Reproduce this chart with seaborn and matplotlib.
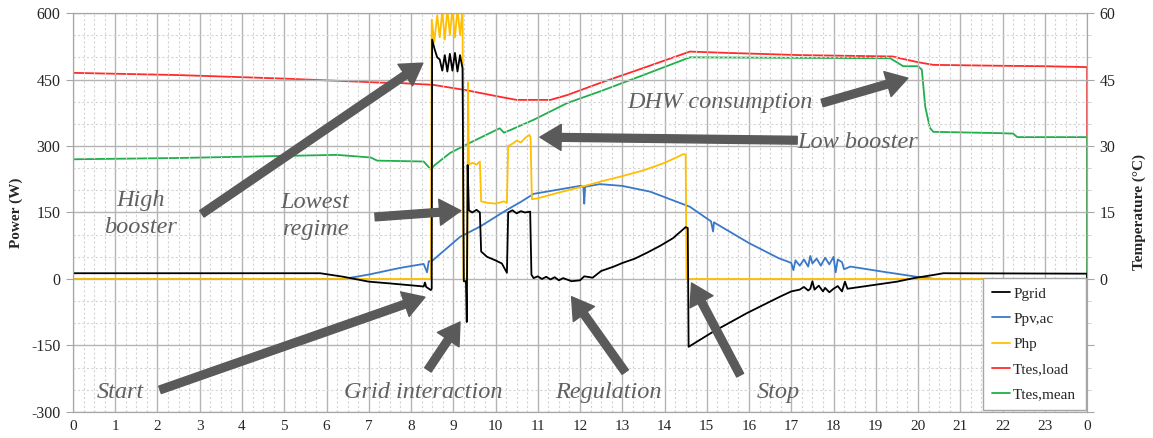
import numpy as np
import pandas as pd
import matplotlib
matplotlib.use('Agg')
import matplotlib.pyplot as plt
from matplotlib.ticker import MultipleLocator
import seaborn as sns

# ---- data (time in hours) ----
t_grid = [0, 5.85, 6.4, 7.0, 7.5, 8.2, 8.3, 8.33, 8.36, 8.47, 8.49,
          8.5, 8.56, 8.62, 8.68, 8.74, 8.8, 8.86, 8.92, 8.98, 9.04, 9.1, 9.16, 9.22,
          9.25, 9.3, 9.32, 9.34, 9.37, 9.45, 9.55, 9.63, 9.66, 9.8, 10.0, 10.15, 10.27,
          10.3, 10.4, 10.5, 10.6, 10.7, 10.82, 10.85, 10.9, 11.0, 11.1, 11.2, 11.3, 11.4,
          11.5, 11.6, 11.8, 12.0, 12.1, 12.3,
          12.5, 12.8, 13.0, 13.3, 13.6, 13.9, 14.2, 14.5, 14.55, 14.57,
          15.15, 15.95, 16.73, 17.0, 17.2, 17.3, 17.4, 17.45, 17.5, 17.55, 17.65, 17.75,
          17.8, 17.9, 18.0, 18.1, 18.2, 18.27, 18.33,
          18.7, 19.5, 19.9, 20.36, 20.6, 24.0, 24.0]
p_grid = [13, 13, 5, -6, -10, -16, -17, -8, -18, -25, -22,
          540, 518, 500, 495, 470, 505, 468, 508, 470, 510, 468, 505, 475,
          -5, -5, -97, 257, 155, 150, 156, 150, 62, 50, 42, 35, 14,
          150, 155, 148, 153, 150, 152, 10, 2, 6, 0, 5, -1, 4,
          -3, 2, -5, -3, 6, 3,
          18, 28, 36, 46, 60, 75, 92, 117, 115, -153,
          -119, -77, -40, -28, -24, -18, -26, -22, -5, -24, -15, -28,
          -20, -30, -22, -16, -28, -6, -22,
          -17, -6, 2, 9, 13, 12, 0]

t_pv = [0, 6.4, 7.0, 7.74, 8.3, 8.38, 8.42, 8.49, 9.16, 9.63, 10.27, 10.6, 10.9,
        12.0, 12.08, 12.1, 12.12, 12.47, 13.0, 13.66, 14.6, 15.1, 15.15, 15.17, 15.2, 16.0,
        16.7, 16.9, 17.0, 17.05, 17.1, 17.2, 17.3, 17.4, 17.45, 17.5, 17.6, 17.7, 17.8,
        17.9, 18.0, 18.05, 18.1, 18.2, 18.25, 18.4, 19.2, 19.97, 20.4, 24.0]
p_pv = [0, 0, 10, 25, 34, 15, 40, 40, 95, 118, 156, 174, 192,
        210, 208, 170, 208, 214, 210, 197, 163, 130, 107, 128, 126, 81,
        47, 40, 36, 20, 42, 30, 44, 28, 52, 35, 46, 30, 48,
        33, 50, 15, 44, 38, 22, 28, 16, 5, 0, 0]

t_hp = [0, 8.47, 8.49, 8.55, 8.62, 8.68, 8.74, 8.8, 8.86, 8.92, 8.98, 9.04, 9.1,
        9.16, 9.22, 9.24, 9.33, 9.35, 9.37, 9.45, 9.55, 9.63, 9.66, 9.8, 10.0, 10.2,
        10.27, 10.3, 10.4, 10.5, 10.6, 10.7, 10.8, 10.83, 10.86, 11.0, 11.5, 12.0,
        12.5, 13.0, 13.5, 14.0, 14.3, 14.45, 14.5, 14.52, 24.0]
p_hp = [0, 0, 585, 535, 595, 545, 605, 540, 610, 550, 610, 545, 610,
        550, 610, 0, 0, 444, 258, 262, 258, 265, 175, 172, 170, 175,
        172, 300, 305, 312, 308, 318, 325, 320, 180, 182, 195, 207,
        220, 232, 245, 262, 275, 282, 280, 0, 0]

t_load = [0, 2.5, 5.0, 7.3, 7.74, 8.52, 9.3, 10.1, 10.5, 11.3, 11.7, 12.47, 13.5,
          14.6, 15.5, 17.2, 19.4, 19.57, 20.0, 20.36, 21.94, 23.0, 24.0, 24.0]
T_load = [46.5, 46.0, 45.2, 44.3, 44.2, 43.8, 42.6, 41.1, 40.4, 40.4, 41.5, 44.2, 47.6,
          51.3, 51.0, 50.5, 50.2, 49.8, 48.9, 48.3, 48.1, 48.0, 47.8, 0]

t_mean = [0, 2.53, 6.25, 7.05, 7.2, 8.3, 8.47, 8.55, 8.92, 9.39, 10.1, 10.2, 10.35,
          10.9, 11.7, 12.47, 13.5, 14.6, 19.34, 19.65, 20.0, 20.09, 20.17, 20.28,
          20.36, 21.94, 22.25, 22.35, 24.0, 24.0]
T_mean = [27.0, 27.3, 28.0, 27.4, 26.7, 26.5, 24.7, 25.6, 28.4, 30.7, 34.0, 33.0, 33.6,
          35.9, 39.7, 42.3, 46.0, 50.0, 49.8, 48.0, 48.0, 47.2, 38.9, 34.1,
          33.2, 32.9, 32.8, 32.0, 32.0, 0]

hours = list(range(25))
hour_labels = [str(h % 24) for h in hours]

# annotations: (text, text position, arrow tail, arrow tip) in (hour, W)
notes = [
    ('High\nbooster', (1.59, 147), (3.05, 147), (8.28, 487)),
    ('Lowest\nregime', (5.73, 142), (7.15, 140), (9.18, 154)),
    ('Start', (1.11, -257), (2.06, -250), (8.33, -41)),
    ('Grid interaction', (8.28, -257), (8.4, -205), (9.16, -97)),
    ('Regulation', (12.66, -257), (13.07, -210), (11.8, -40)),
    ('Stop', (16.69, -257), (15.79, -217), (14.64, -9)),
    ('DHW consumption', (15.31, 397), (17.73, 397), (19.76, 453)),
    ('Low booster', (18.58, 307), (17.14, 313), (11.05, 320)),
]

sns.set_style('white')
plt.rcParams['font.family'] = ['Liberation Serif', 'DejaVu Serif']
plt.rcParams['axes.unicode_minus'] = False

fig = plt.figure(figsize=(11.53, 4.38), dpi=100)
ax = fig.add_axes([0.0633, 0.0594, 0.8795, 0.9109])
ax2 = ax.twinx()

grid_major = '#b4b4b4'
grid_minor = '#d4d4d4'
ax.set_xlim(0, 24)
ax.set_ylim(-300, 600)
ax2.set_ylim(-30, 60)
ax.xaxis.set_major_locator(MultipleLocator(1))
ax.xaxis.set_minor_locator(MultipleLocator(0.25))
ax.yaxis.set_major_locator(MultipleLocator(150))
ax.yaxis.set_minor_locator(MultipleLocator(50))
ax.grid(which='major', color=grid_major, lw=1.0)
ax.grid(which='minor', color=grid_minor, lw=0.8, ls=(0, (2, 2)))
ax.set_axisbelow(True)
ax.set_xticks(hours)
ax.set_xticklabels(hour_labels)
ax2.set_yticks([-30, -15, 0, 15, 30, 45, 60])
ax2.set_yticklabels(['', '', '0', '15', '30', '45', '60'])
ax2.yaxis.set_minor_locator(MultipleLocator(5))

for a in (ax, ax2):
    for s in a.spines.values():
        s.set_color('#a6a6a6')
    a.tick_params(which='major', length=5, color='#a6a6a6', labelsize=11.5, pad=4)
    a.tick_params(which='minor', length=0)
ax.tick_params(axis='x', which='major', length=4, pad=1.5, labelsize=11)
ax2.tick_params(axis='y', which='minor', length=3, color='#c8c8c8')

sns.lineplot(x=t_mean, y=T_mean, ax=ax2, color='#1faf4b', lw=1.3, estimator=None, sort=False, label='Ttes,mean')
sns.lineplot(x=t_load, y=T_load, ax=ax2, color='#ff2a2a', lw=1.3, estimator=None, sort=False, label='Ttes,load')
ax2.lines[0].set_zorder(3)
sns.lineplot(x=t_pv, y=p_pv, ax=ax, color='#3a78c9', lw=1.3, estimator=None, sort=False, label='Ppv,ac')
sns.lineplot(x=t_hp, y=p_hp, ax=ax, color='#ffbf00', lw=1.3, estimator=None, sort=False, label='Php')
sns.lineplot(x=t_grid, y=p_grid, ax=ax, color='black', lw=1.3, estimator=None, sort=False, label='Pgrid')
ax.set_zorder(ax2.get_zorder() + 1)
ax.patch.set_visible(False)

ax.set_xlabel('')
ax.set_ylabel('Power (W)', fontweight='bold', fontsize=11, labelpad=6)
ax2.set_ylabel('Temperature (°C)', fontweight='bold', fontsize=11, labelpad=12)

for txt, tpos, tail, tip in notes:
    ax.annotate('', xy=tip, xytext=tail,
                arrowprops=dict(arrowstyle='simple,head_length=0.9,head_width=1.1,tail_width=0.33',
                                mutation_scale=17, color='#5a5a5a', shrinkA=0, shrinkB=0))
    ax.text(tpos[0], tpos[1], txt, ha='center', va='center', fontsize=17.5, style='italic',
            color='#606060', linespacing=1.35)

h1, l1 = ax.get_legend_handles_labels()
h2, l2 = ax2.get_legend_handles_labels()
handles = dict(zip(l1 + l2, h1 + h2))
order = ['Pgrid', 'Ppv,ac', 'Php', 'Ttes,load', 'Ttes,mean']
ax2.get_legend().remove()
leg = ax.legend([handles[k] for k in order], order, loc='lower right', fontsize=11,
                frameon=True, fancybox=False, edgecolor='#a6a6a6', framealpha=1,
                handlelength=1.2, handletextpad=0.2, labelspacing=0.75,
                borderpad=0.6, borderaxespad=0.1)
leg.get_frame().set_linewidth(1.0)

fig.savefig('out.png', dpi=100)
